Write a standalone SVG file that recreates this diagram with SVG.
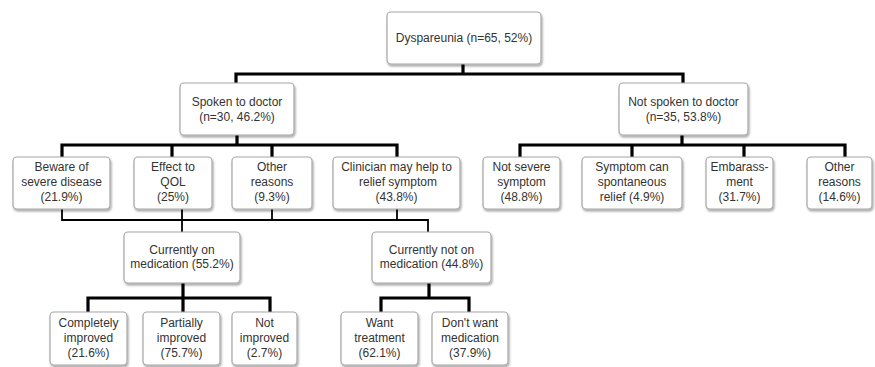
<svg xmlns="http://www.w3.org/2000/svg" width="875" height="367" viewBox="0 0 875 367">
<defs>
<filter id="sh" x="-10%" y="-10%" width="125%" height="130%">
<feGaussianBlur in="SourceAlpha" stdDeviation="1.2"/>
<feOffset dx="1" dy="1.5" result="b"/>
<feComponentTransfer><feFuncA type="linear" slope="0.35"/></feComponentTransfer>
<feMerge><feMergeNode/><feMergeNode in="SourceGraphic"/></feMerge>
</filter>
</defs>
<style>
.box{fill:#fff;stroke:#a6a6a6;stroke-width:1.2;filter:url(#sh)}
text{font-family:"Liberation Sans",Arial,sans-serif;font-size:12px;fill:#333;text-anchor:middle}
.c{fill:none;stroke:#000;stroke-width:3.2;stroke-linejoin:miter}
.t{fill:none;stroke:#000;stroke-width:1.8}
</style>
<rect width="875" height="367" fill="#fff"/>
<g id="connectors">
<path class="c" d="M463 64V74M236 83V74H683V83"/>
<path class="c" d="M237 135V145M62 157V145H397V157M172 145V157M272 145V157"/>
<path class="c" d="M682 135V145M520 157V145H845V157M632 145V157M744 145V157"/>
<path class="t" d="M62 209V220H428V232M182 209V232M272 209V220M397 209V220"/>
<path class="c" d="M183 283V298M88 312V298H270V312M183 298V312"/>
<path class="c" d="M429 283V298M381 312V298H469V312"/>
</g>
<g id="n-root"><rect class="box" x="387" y="12" width="154" height="52" rx="4"/><text x="464" y="42">Dyspareunia (n=65, 52%)</text></g>
<g id="n-spoken"><rect class="box" x="180" y="83" width="114" height="52" rx="4"/><text x="237" y="106">Spoken to doctor</text><text x="237" y="121">(n=30, 46.2%)</text></g>
<g id="n-notspoken"><rect class="box" x="619" y="83" width="129" height="52" rx="4"/><text x="683.5" y="106">Not spoken to doctor</text><text x="683.5" y="121">(n=35, 53.8%)</text></g>
<g id="n-beware"><rect class="box" x="13" y="157" width="97" height="52" rx="4"/><text x="61.5" y="171">Beware of</text><text x="61.5" y="186">severe disease</text><text x="61.5" y="201">(21.9%)</text></g>
<g id="n-effect"><rect class="box" x="134" y="157" width="78" height="52" rx="4"/><text x="173" y="171">Effect to</text><text x="173" y="186">QOL</text><text x="173" y="201">(25%)</text></g>
<g id="n-other1"><rect class="box" x="232" y="157" width="80" height="52" rx="4"/><text x="272" y="171">Other</text><text x="272" y="186">reasons</text><text x="272" y="201">(9.3%)</text></g>
<g id="n-clinician"><rect class="box" x="333" y="157" width="127" height="52" rx="4"/><text x="396.5" y="171">Clinician may help to</text><text x="398" y="186">relief symptom</text><text x="396.5" y="201">(43.8%)</text></g>
<g id="n-notsevere"><rect class="box" x="483" y="157" width="77" height="52" rx="4"/><text x="521.5" y="171">Not severe</text><text x="521.5" y="186">symptom</text><text x="521.5" y="201">(48.8%)</text></g>
<g id="n-spont"><rect class="box" x="582" y="157" width="100" height="52" rx="4"/><text x="632" y="171">Symptom can</text><text x="632" y="186">spontaneous</text><text x="632" y="201">relief (4.9%)</text></g>
<g id="n-embar"><rect class="box" x="706" y="157" width="67" height="52" rx="4"/><text x="739.5" y="171">Embarass-</text><text x="739.5" y="186">ment</text><text x="739.5" y="201">(31.7%)</text></g>
<g id="n-other2"><rect class="box" x="807" y="157" width="65" height="52" rx="4"/><text x="839.5" y="171">Other</text><text x="839.5" y="186">reasons</text><text x="839.5" y="201">(14.6%)</text></g>
<g id="n-onmed"><rect class="box" x="124" y="232" width="116" height="51" rx="4"/><text x="182" y="254">Currently on</text><text x="182" y="268">medication (55.2%)</text></g>
<g id="n-notonmed"><rect class="box" x="372" y="232" width="119" height="51" rx="4"/><text x="431.5" y="254">Currently not on</text><text x="431.5" y="268">medication (44.8%)</text></g>
<g id="n-complete"><rect class="box" x="50" y="312" width="77" height="53" rx="4"/><text x="88.5" y="327">Completely</text><text x="88.5" y="342">improved</text><text x="88.5" y="357">(21.6%)</text></g>
<g id="n-partial"><rect class="box" x="143" y="312" width="77" height="53" rx="4"/><text x="181.5" y="327">Partially</text><text x="181.5" y="342">improved</text><text x="181.5" y="357">(75.7%)</text></g>
<g id="n-notimp"><rect class="box" x="232" y="312" width="65" height="53" rx="4"/><text x="264.5" y="327">Not</text><text x="264.5" y="342">improved</text><text x="264.5" y="357">(2.7%)</text></g>
<g id="n-want"><rect class="box" x="341" y="312" width="77" height="53" rx="4"/><text x="379.5" y="327">Want</text><text x="379.5" y="342">treatment</text><text x="379.5" y="357">(62.1%)</text></g>
<g id="n-dontwant"><rect class="box" x="432" y="312" width="76" height="53" rx="4"/><text x="470" y="327">Don't want</text><text x="470" y="342">medication</text><text x="470" y="357">(37.9%)</text></g>
</svg>
